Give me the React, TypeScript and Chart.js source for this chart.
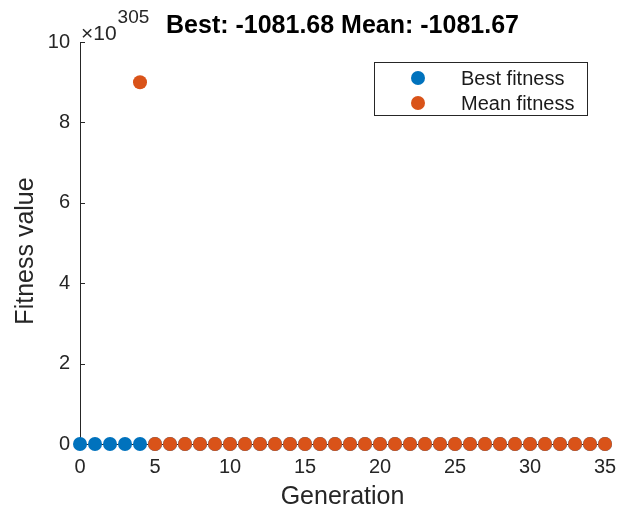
import { useEffect, useRef } from "react";
import { Chart, registerables } from "chart.js";

Chart.register(...registerables);

// Generations 0..35 of the genetic algorithm run
const generations = [
  0, 1, 2, 3, 4, 5, 6, 7, 8, 9, 10, 11, 12, 13, 14, 15, 16, 17,
  18, 19, 20, 21, 22, 23, 24, 25, 26, 27, 28, 29, 30, 31, 32, 33, 34, 35,
];

// Best fitness per generation
const bestFitness = [
  -1042.31, -1058.9, -1066.42, -1071.05, -1074.6, -1076.2, -1077.35, -1078.1,
  -1078.72, -1079.2, -1079.6, -1079.93, -1080.2, -1080.42, -1080.6, -1080.75,
  -1080.88, -1080.98, -1081.07, -1081.15, -1081.22, -1081.28, -1081.33,
  -1081.38, -1081.42, -1081.46, -1081.5, -1081.53, -1081.56, -1081.58,
  -1081.6, -1081.62, -1081.64, -1081.66, -1081.67, -1081.68,
];

// Mean fitness per generation (the first generations have an unbounded mean)
const meanFitness: (number | null)[] = [
  null, null, null, null, 9e305, -1073.9, -1075.8, -1077.0, -1077.9, -1078.5,
  -1079.0, -1079.4, -1079.8, -1080.1, -1080.35, -1080.55, -1080.7, -1080.85,
  -1080.95, -1081.05, -1081.13, -1081.2, -1081.26, -1081.32, -1081.37,
  -1081.41, -1081.45, -1081.49, -1081.52, -1081.55, -1081.58, -1081.6,
  -1081.62, -1081.64, -1081.66, -1081.67,
];

const xTicks = [0, 5, 10, 15, 20, 25, 30, 35];
const yTicks = [0, 2, 4, 6, 8, 10];
const EXPONENT = 305;
const SCALE = Math.pow(10, EXPONENT);

const titleText = "Best: -1081.68 Mean: -1081.67";
const xLabel = "Generation";
const yLabel = "Fitness value";
const legendLabels = ["Best fitness", "Mean fitness"];
const seriesColors = ["#0072BD", "#D95319"];

const FONT = '"Liberation Sans", Arial, Helvetica, sans-serif';
const AXIS_COLOR = "#262626";

const decorations = {
  id: "decorations",
  beforeDatasetsDraw(chart: any) {
    const { ctx, chartArea, scales } = chart;
    ctx.save();
    ctx.strokeStyle = AXIS_COLOR;
    ctx.lineWidth = 1;
    ctx.beginPath();
    for (const v of xTicks) {
      const x = Math.round(scales.x.getPixelForValue(v)) + 0.5;
      ctx.moveTo(x, chartArea.bottom);
      ctx.lineTo(x, chartArea.bottom - 5);
    }
    for (const v of yTicks) {
      const y = Math.round(scales.y.getPixelForValue(v)) + 0.5;
      ctx.moveTo(chartArea.left, y);
      ctx.lineTo(chartArea.left + 5, y);
    }
    ctx.stroke();
    ctx.restore();
  },
  afterDraw(chart: any) {
    const { ctx, chartArea } = chart;
    const cx = (chartArea.left + chartArea.right) / 2;
    ctx.save();

    // title
    ctx.fillStyle = "#000";
    ctx.font = `bold 25px ${FONT}`;
    ctx.textAlign = "center";
    ctx.textBaseline = "alphabetic";
    ctx.fillText(titleText, cx, 33);

    // exponent marker above the y axis
    ctx.fillStyle = AXIS_COLOR;
    ctx.textAlign = "left";
    ctx.font = `21px ${FONT}`;
    ctx.fillText("\u00d710", chartArea.left + 1, 40);
    const w = ctx.measureText("\u00d710").width;
    ctx.font = `19px ${FONT}`;
    ctx.fillText(String(EXPONENT), chartArea.left + 2 + w, 23);

    // axis titles
    ctx.font = `25px ${FONT}`;
    ctx.textAlign = "center";
    ctx.textBaseline = "middle";
    ctx.fillText(xLabel, cx, 497);
    ctx.save();
    ctx.translate(26, 251);
    ctx.rotate(-Math.PI / 2);
    ctx.fillText(yLabel, 0, 0);
    ctx.restore();

    // legend box
    const bx = 374.5, by = 62.5, bw = 213, bh = 53;
    ctx.fillStyle = "#fff";
    ctx.fillRect(bx, by, bw, bh);
    ctx.strokeStyle = AXIS_COLOR;
    ctx.lineWidth = 1;
    ctx.strokeRect(bx, by, bw, bh);
    ctx.font = `20px ${FONT}`;
    ctx.textAlign = "left";
    ctx.textBaseline = "middle";
    legendLabels.forEach((label, i) => {
      const y = 78 + i * 25;
      ctx.fillStyle = seriesColors[i];
      ctx.beginPath();
      ctx.arc(418, y, 7, 0, Math.PI * 2);
      ctx.fill();
      ctx.fillStyle = "#1a1a1a";
      ctx.fillText(label, 461, y + 1);
    });
    ctx.restore();
  },
};

export default function App() {
  const canvasRef = useRef<HTMLCanvasElement | null>(null);

  useEffect(() => {
    document.body.style.margin = "0";
    const canvas = canvasRef.current;
    if (!canvas) return;

    const toPoints = (values: (number | null)[]) =>
      generations.map((g, i) => ({
        x: g,
        y: values[i] === null ? null : (values[i] as number) / SCALE,
      }));

    const chart = new Chart(canvas, {
      type: "scatter",
      data: {
        datasets: [
          {
            label: legendLabels[0],
            data: toPoints(bestFitness) as any,
            backgroundColor: seriesColors[0],
            borderColor: seriesColors[0],
            borderWidth: 0,
            pointRadius: 7,
            pointHoverRadius: 7,
            order: 1,
            clip: false as any,
          },
          {
            label: legendLabels[1],
            data: toPoints(meanFitness) as any,
            backgroundColor: seriesColors[1],
            borderColor: seriesColors[1],
            borderWidth: 0,
            pointRadius: 7,
            pointHoverRadius: 7,
            order: 0,
            clip: false as any,
          },
        ],
      },
      options: {
        responsive: false,
        animation: false,
        events: [],
        layout: { padding: { top: 42, right: 0, left: 0, bottom: 0 } },
        plugins: {
          legend: { display: false },
          title: { display: false },
          tooltip: { enabled: false },
        },
        scales: {
          x: {
            type: "linear",
            min: 0,
            max: 35,
            afterBuildTicks: (s: any) => {
              s.ticks = xTicks.map((v) => ({ value: v }));
            },
            afterFit: (s: any) => {
              s.height = 67;
              s.paddingLeft = 0;
              s.paddingRight = 13;
            },
            grid: { display: false, drawTicks: false },
            border: { display: true, color: AXIS_COLOR, width: 1 },
            ticks: {
              color: AXIS_COLOR,
              font: { family: FONT, size: 20 },
              padding: 11,
              maxRotation: 0,
              autoSkip: false,
            },
          },
          y: {
            type: "linear",
            min: 0,
            max: 10,
            afterBuildTicks: (s: any) => {
              s.ticks = yTicks.map((v) => ({ value: v }));
            },
            afterFit: (s: any) => {
              s.width = 80;
              s.paddingTop = 0;
              s.paddingBottom = 0;
            },
            grid: { display: false, drawTicks: false },
            border: { display: true, color: AXIS_COLOR, width: 1 },
            ticks: {
              color: AXIS_COLOR,
              font: { family: FONT, size: 20 },
              padding: 10,
              autoSkip: false,
            },
          },
        },
      },
      plugins: [decorations],
    });

    return () => chart.destroy();
  }, []);

  return (
    <div style={{ position: "relative", width: 618, height: 511, background: "#fff" }}>
      <canvas ref={canvasRef} width={618} height={511} />
    </div>
  );
}
